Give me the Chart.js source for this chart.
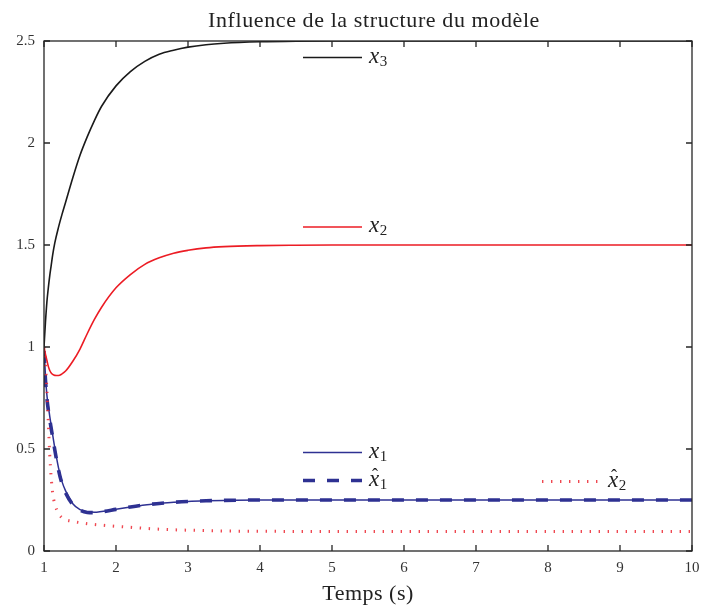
<!DOCTYPE html>
<html>
<head>
<meta charset="utf-8">
<script src="https://cdn.jsdelivr.net/npm/chart.js@4.4.0/dist/chart.umd.min.js"></script>
<style>
  html, body { margin: 0; padding: 0; background: #fff; }
  #wrap { width: 701px; height: 609px; }
</style>
</head>
<body>
<div id="wrap"><canvas id="c" width="701" height="609"></canvas></div>
<script>
/* ── data ─────────────────────────────────────────────────── */
const T = [1, 1.02, 1.04, 1.06, 1.08, 1.1, 1.12, 1.15, 1.2, 1.25, 1.3, 1.4, 1.5, 1.6, 1.7, 1.8,
           2, 2.2, 2.4, 2.6, 2.8, 3, 3.25, 3.5, 4, 4.5, 5, 6, 7, 8, 9, 10];

const X3 = [1.0, 1.12, 1.22, 1.29, 1.35, 1.40, 1.45, 1.51, 1.585, 1.65, 1.71, 1.83, 1.94, 2.03, 2.11, 2.18,
            2.28, 2.35, 2.40, 2.435, 2.455, 2.47, 2.482, 2.489, 2.496, 2.499, 2.5, 2.5, 2.5, 2.5, 2.5, 2.5];

const X2 = [1.0, 0.965, 0.935, 0.905, 0.885, 0.873, 0.866, 0.861, 0.86, 0.868, 0.882, 0.93, 0.99, 1.065, 1.135, 1.195,
            1.29, 1.355, 1.405, 1.437, 1.46, 1.474, 1.486, 1.492, 1.497, 1.499, 1.5, 1.5, 1.5, 1.5, 1.5, 1.5];

const X1 = [1.0, 0.86, 0.765, 0.71, 0.66, 0.615, 0.57, 0.505, 0.41, 0.34, 0.295, 0.232, 0.203, 0.192, 0.19, 0.194,
            0.205, 0.216, 0.226, 0.233, 0.239, 0.243, 0.246, 0.248, 0.25, 0.25, 0.25, 0.25, 0.25, 0.25, 0.25, 0.25];

const X1_HAT = [0.98, 0.84, 0.75, 0.69, 0.645, 0.6, 0.56, 0.495, 0.40, 0.33, 0.285, 0.228, 0.2, 0.189, 0.188, 0.192,
                0.204, 0.216, 0.226, 0.233, 0.239, 0.243, 0.246, 0.248, 0.25, 0.25, 0.25, 0.25, 0.25, 0.25, 0.25, 0.25];

const X2_HAT = [1.0, 0.92, 0.79, 0.63, 0.47, 0.36, 0.285, 0.23, 0.185, 0.163, 0.153, 0.145, 0.139, 0.134, 0.13, 0.127,
                0.121, 0.116, 0.111, 0.107, 0.104, 0.102, 0.1, 0.098, 0.097, 0.096, 0.096, 0.095, 0.095, 0.095, 0.095, 0.095];

const X_TICKS = [1, 2, 3, 4, 5, 6, 7, 8, 9, 10];
const Y_TICKS = [0, 0.5, 1, 1.5, 2, 2.5];

const TITLE  = 'Influence de la structure du modèle';
const XLABEL = 'Temps (s)';

/* ── style ─────────────────────────────────────────────────── */
const SERIF = '"Liberation Serif", "Times New Roman", serif';
const CLR = { black: '#1a1a1a', red: '#ec1c24', blue: '#2e3192', dot: 'rgba(236,40,50,0.85)', axis: '#262626' };

const pts = ys => T.map((t, i) => ({ x: t, y: ys[i] }));

const datasets = [
  { label: 'x3',  sub: '3', hat: false, data: pts(X3),     borderColor: CLR.black, borderWidth: 1.6 },
  { label: 'x2',  sub: '2', hat: false, data: pts(X2),     borderColor: CLR.red,   borderWidth: 1.6 },
  { label: 'x2h', sub: '2', hat: true,  data: pts(X2_HAT), borderColor: CLR.dot,   borderWidth: 3, borderDash: [1.4, 7.6] },
  { label: 'x1h', sub: '1', hat: true,  data: pts(X1_HAT), borderColor: CLR.blue,  borderWidth: 3.6, borderDash: [12, 12] },
  { label: 'x1',  sub: '1', hat: false, data: pts(X1),     borderColor: CLR.blue,  borderWidth: 1.5 },
];

// legend entries: dataset label -> where the sample sits (px from chart area top-left)
const LEGEND = [
  { ds: 'x3',  x: 259, y: 16.5 },
  { ds: 'x2',  x: 259, y: 186 },
  { ds: 'x1',  x: 259, y: 411.5 },
  { ds: 'x1h', x: 259, y: 439.5 },
  { ds: 'x2h', x: 498, y: 440.5 },
];

/* ── plugins ───────────────────────────────────────────────── */
const frame = {
  id: 'frame',
  afterDraw(chart) {
    const { ctx, chartArea: a, scales: { x, y } } = chart;
    ctx.save();
    ctx.strokeStyle = CLR.axis;
    ctx.lineWidth = 1.3;
    ctx.strokeRect(a.left, a.top, a.right - a.left, a.bottom - a.top);
    const tl = 6;
    ctx.beginPath();
    X_TICKS.forEach(v => {
      const px = x.getPixelForValue(v);
      ctx.moveTo(px, a.bottom); ctx.lineTo(px, a.bottom - tl);
      ctx.moveTo(px, a.top);    ctx.lineTo(px, a.top + tl);
    });
    Y_TICKS.forEach(v => {
      const py = y.getPixelForValue(v);
      ctx.moveTo(a.left, py);  ctx.lineTo(a.left + tl, py);
      ctx.moveTo(a.right, py); ctx.lineTo(a.right - tl, py);
    });
    ctx.stroke();

    // titles
    ctx.fillStyle = '#222';
    ctx.textAlign = 'center';
    ctx.textBaseline = 'alphabetic';
    ctx.font = '22px ' + SERIF;
    ctx.letterSpacing = '0.6px';
    ctx.fillText(TITLE, 374, 27);
    ctx.letterSpacing = '0.5px';
    ctx.fillText(XLABEL, 368, 600);
    ctx.letterSpacing = '0px';

    // legend, one entry per curve, placed like the original
    LEGEND.forEach(item => {
      const ds = chart.data.datasets.find(d => d.label === item.ds);
      const x0 = a.left + item.x, yy = a.top + item.y;
      ctx.save();
      ctx.strokeStyle = ds.borderColor;
      ctx.lineWidth = ds.borderWidth;
      ctx.setLineDash(ds.borderDash || []);
      ctx.beginPath();
      ctx.moveTo(x0, yy); ctx.lineTo(x0 + 59, yy);
      ctx.stroke();
      ctx.restore();

      const tx = x0 + 66, base = yy + 5;
      ctx.textAlign = 'left';
      ctx.fillStyle = '#222';
      ctx.font = 'italic 23px ' + SERIF;
      ctx.fillText('x', tx, base);
      const w = ctx.measureText('x').width;
      if (ds.hat) {
        ctx.font = '18px ' + SERIF;
        ctx.textAlign = 'center';
        ctx.fillText('ˆ', tx + w / 2 + 1, base - 5);
        ctx.textAlign = 'left';
      }
      ctx.font = '15px ' + SERIF;
      ctx.fillText(ds.sub, tx + w + 0.5, base + 3);
    });
    ctx.restore();
  },
};

/* ── chart ─────────────────────────────────────────────────── */
new Chart(document.getElementById('c'), {
  type: 'line',
  data: {
    datasets: datasets.map(d => ({
      ...d,
      pointRadius: 0,
      fill: false,
      cubicInterpolationMode: 'monotone',
      borderCapStyle: 'butt',
    })),
  },
  options: {
    responsive: false,
    devicePixelRatio: 1,
    animation: false,
    layout: { padding: { top: 41, right: 9, left: 0, bottom: 0 } },
    plugins: { legend: { display: false }, tooltip: { enabled: false }, title: { display: false } },
    scales: {
      x: {
        type: 'linear', min: 1, max: 10,
        afterFit: s => { s.height = 58; s.paddingLeft = 0; s.paddingRight = 0; },
        afterBuildTicks: s => { s.ticks = X_TICKS.map(v => ({ value: v })); },
        grid: { display: false, drawTicks: false },
        border: { display: false },
        ticks: { padding: 8, color: '#333', font: { family: SERIF, size: 15 }, maxRotation: 0, callback: v => String(v) },
      },
      y: {
        type: 'linear', min: 0, max: 2.5,
        afterFit: s => { s.width = 44; s.paddingTop = 0; s.paddingBottom = 0; },
        afterBuildTicks: s => { s.ticks = Y_TICKS.map(v => ({ value: v })); },
        grid: { display: false, drawTicks: false },
        border: { display: false },
        ticks: { padding: 9, color: '#333', font: { family: SERIF, size: 15 }, callback: v => String(v) },
      },
    },
  },
  plugins: [frame],
});
</script>
</body>
</html>
